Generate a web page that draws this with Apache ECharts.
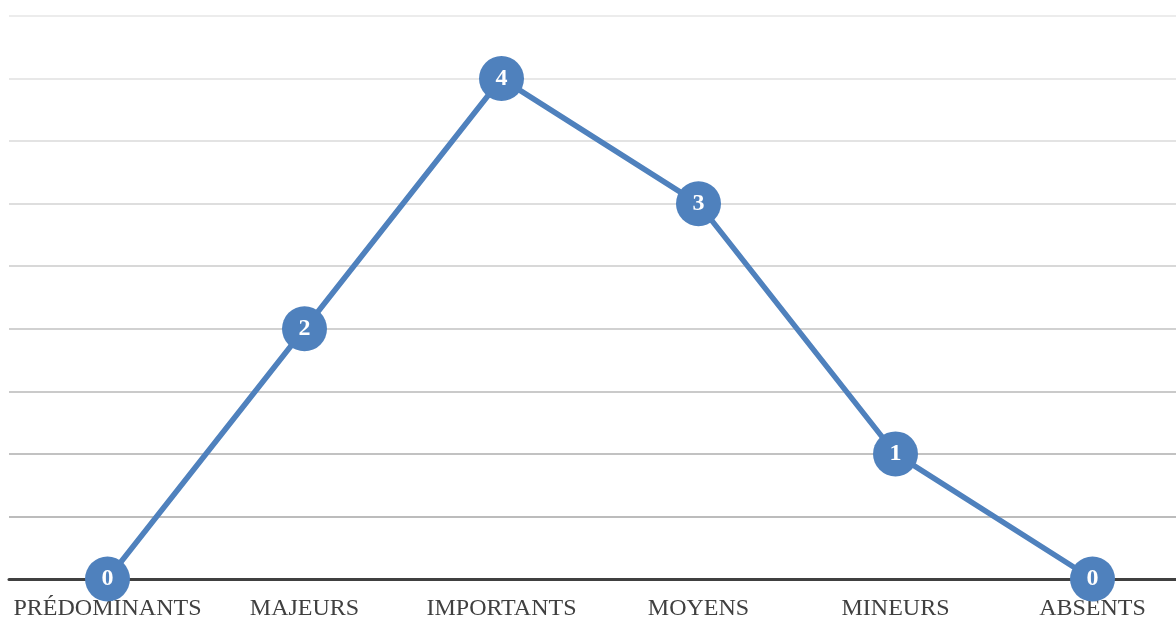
<!DOCTYPE html>
<html>
<head>
<meta charset="utf-8">
<script src="https://cdn.jsdelivr.net/npm/echarts@6/dist/echarts.min.js"></script>
<style>
  html, body { margin: 0; padding: 0; background: #ffffff; }
  #chart { width: 1176px; height: 618px; }
</style>
</head>
<body>
<div id="chart"></div>
<script>
// Categories along the x axis
const categories = ['PRÉDOMINANTS', 'MAJEURS', 'IMPORTANTS', 'MOYENS', 'MINEURS', 'ABSENTS'];
// Count per category
const counts = [0, 2, 4, 3, 1, 0];
// Value axis range
const yMin = 0;
const yMax = 4.5;
const yStep = 0.5;

const chart = echarts.init(document.getElementById('chart'));

chart.setOption({
  backgroundColor: '#ffffff',
  animation: false,
  // plot area runs slightly past the right edge of the canvas
  grid: { left: 9, width: 1182, top: 16, bottom: 39, containLabel: false, outerBoundsMode: 'none' },
  xAxis: {
    type: 'category',
    data: categories,
    boundaryGap: true,
    axisLine: { show: true, lineStyle: { color: '#404040', width: 3 } },
    axisTick: { show: false },
    axisLabel: {
      color: '#404040',
      fontFamily: 'Liberation Serif',
      fontSize: 24,
      margin: 18,
      interval: 0
    }
  },
  yAxis: {
    type: 'value',
    min: yMin,
    max: yMax,
    interval: yStep,
    axisLine: { show: false },
    axisTick: { show: false },
    axisLabel: { show: false },
    splitLine: {
      show: true,
      lineStyle: {
        width: 1.5,
        // darker near the baseline, fading toward the top
        color: ['#9a9a9a', '#a6a6a6', '#aeaeae', '#b8b8b8', '#c2c2c2',
                '#cbcbcb', '#d3d3d3', '#dadada', '#e0e0e0', '#e6e6e6']
      }
    }
  },
  series: [{
    type: 'line',
    data: counts,
    symbol: 'circle',
    symbolSize: 45,
    lineStyle: { color: '#4f81bd', width: 5.5 },
    itemStyle: { color: '#4f81bd', borderWidth: 0 },
    z: 5,
    label: {
      show: true,
      position: 'inside',
      color: '#ffffff',
      fontFamily: 'Liberation Serif',
      fontWeight: 'bold',
      fontSize: 24
    }
  }]
});
</script>
</body>
</html>
